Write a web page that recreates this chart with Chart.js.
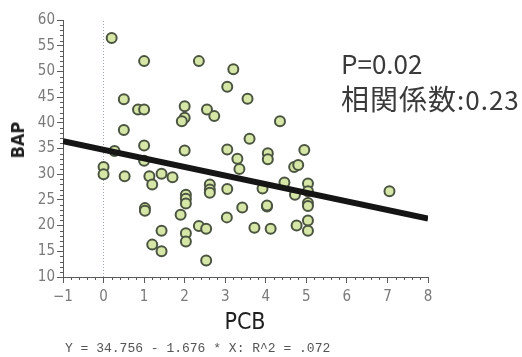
<!DOCTYPE html>
<html>
<head>
<meta charset="utf-8">
<script src="https://cdn.jsdelivr.net/npm/chart.js@4/dist/chart.umd.min.js"></script>
<style>
  html, body { margin: 0; padding: 0; background: #ffffff; }
  #wrap { position: relative; width: 522px; height: 357px; }
  canvas { position: absolute; left: 0; top: 0; }
  .note { position: absolute; white-space: nowrap; color: #3a3a3a;
          font-family: "Noto Sans CJK JP", "Noto Sans", sans-serif; font-size: 26px; line-height: 1; }
  .cjk { font-size: 28px; }
  .eq { position: absolute; white-space: pre; color: #555555;
        font-family: "Liberation Mono", "DejaVu Sans Mono", monospace; font-size: 13px; line-height: 1; }
  .axtitle { position: absolute; white-space: nowrap; color: #1e1e1e; line-height: 1;
             font-family: "DejaVu Sans Condensed", "DejaVu Sans", sans-serif; font-stretch: condensed; }
  #xTitle { font-size: 23px; left: 245px; top: 310px; transform: translateX(-50%); }
  #yTitle { font-size: 18px; font-weight: bold; left: 18px; top: 140px;
            transform: translate(-50%, -50%) rotate(-90deg); }
</style>
</head>
<body>
<div id="wrap">
  <canvas id="c" width="522" height="357"></canvas>
  <div class="note" id="pLabel" style="left:341px; top:50px;"></div>
  <div class="note" id="rLabel" style="left:341px; top:84px; letter-spacing:1px;"></div>
  <div class="eq" id="eqLabel" style="left:65px; top:342px;"></div>
  <div class="axtitle" id="xTitle"></div>
  <div class="axtitle" id="yTitle"></div>
</div>
<script>
// PCB (x) and BAP (y) for each sample
const pcb = [0.2, 1.0, 2.35, 3.2, 3.05, 0.5, 3.55, 0.85, 1.0, 2.0,
             2.55, 2.0, 1.93, 2.73, 4.35, 0.5, 3.6, 1.0, 0.27, 2.0,
             3.05, 4.05, 4.95, 4.05, 3.3, 1.0, 3.35, 4.7, 4.8, 0.0,
             0.0, 0.52, 1.13, 1.2, 1.43, 1.7, 2.62, 2.62, 2.62, 3.05,
             3.92, 4.46, 5.04, 5.04, 4.72, 2.03, 2.03, 2.03, 1.02, 1.02,
             1.9, 3.42, 4.03, 4.03, 5.04, 5.04, 3.04, 5.04, 5.04, 4.76,
             3.72, 4.12, 2.35, 2.53, 1.43, 2.03, 2.03, 1.2, 1.43, 2.53,
             7.05];
const bap = [56.5, 52.0, 52.0, 50.4, 47.0, 44.6, 44.7, 42.6, 42.6, 43.2,
             42.6, 41.0, 40.3, 41.3, 40.3, 38.6, 36.9, 35.6, 34.5, 34.6,
             34.8, 34.1, 34.7, 32.9, 33.0, 32.6, 31.0, 31.4, 31.8, 31.4,
             30.0, 29.6, 29.6, 28.0, 30.1, 29.4, 28.0, 27.0, 26.4, 27.1,
             27.2, 28.4, 28.2, 26.7, 26.0, 26.0, 25.2, 24.3, 23.4, 22.9,
             22.1, 23.5, 23.7, 23.9, 24.4, 23.8, 21.6, 21.0, 19.0, 20.0,
             19.6, 19.4, 19.9, 19.4, 19.0, 18.5, 16.9, 16.3, 15.0, 13.2,
             26.7];

// Axis ranges, tick steps and titles
const xRange = [-1, 8];
const yRange = [10, 60];
const xStep = 1, xMinorStep = 0.2;
const yStep = 5, yMinorStep = 1;
const xTitle = 'PCB';
const yTitle = 'BAP';

// Fitted regression and statistics
const intercept = 34.756;
const slope = -1.676;
const rSquared = '.072';
const pValue = '0.02';
const corrName = '相関係数';
const corrCoef = '0.23';

const points = pcb.map((x, i) => ({ x: x, y: bap[i] }));
const fitLine = xRange.map(x => ({ x: x, y: intercept + slope * x }));
const zeroLine = yRange.map(y => ({ x: 0, y: y }));

document.getElementById('xTitle').textContent = xTitle;
document.getElementById('yTitle').textContent = yTitle;
document.getElementById('pLabel').textContent = 'P=' + pValue;
const rLabel = document.getElementById('rLabel');
const cjk = document.createElement('span');
cjk.className = 'cjk';
cjk.textContent = corrName;
rLabel.appendChild(cjk);
rLabel.appendChild(document.createTextNode(':' + corrCoef));
document.getElementById('eqLabel').textContent =
  'Y = ' + intercept + ' - ' + Math.abs(slope) + ' * X: R^2 = ' + rSquared;

const axisColor = '#5a5a5a';
const tickFont = { family: '"DejaVu Sans Condensed", "DejaVu Sans", sans-serif', weight: 'condensed', size: 15 };

// Short minor ticks between the labelled ones
const minorTicks = {
  id: 'minorTicks',
  afterDraw(chart) {
    const ctx = chart.ctx, xs = chart.scales.x, ys = chart.scales.y;
    const area = chart.chartArea;
    ctx.save();
    ctx.strokeStyle = axisColor;
    ctx.lineWidth = 1;
    ctx.beginPath();
    const nx = Math.round((xRange[1] - xRange[0]) / xMinorStep);
    for (let i = 0; i <= nx; i++) {
      const v = xRange[0] + i * xMinorStep;
      if (i % Math.round(xStep / xMinorStep) === 0) continue;
      const px = Math.round(xs.getPixelForValue(v)) + 0.5;
      ctx.moveTo(px, area.bottom);
      ctx.lineTo(px, area.bottom + 3);
    }
    const ny = Math.round((yRange[1] - yRange[0]) / yMinorStep);
    for (let i = 0; i <= ny; i++) {
      const v = yRange[0] + i * yMinorStep;
      if (i % Math.round(yStep / yMinorStep) === 0) continue;
      const py = Math.round(ys.getPixelForValue(v)) + 0.5;
      ctx.moveTo(area.left, py);
      ctx.lineTo(area.left - 3, py);
    }
    ctx.stroke();
    ctx.restore();
  }
};

new Chart(document.getElementById('c'), {
  type: 'scatter',
  data: {
    datasets: [
      {
        type: 'line',
        data: fitLine,
        borderColor: '#151515',
        borderWidth: 6,
        pointRadius: 0,
        fill: false,
        order: 0
      },
      {
        data: points,
        backgroundColor: '#d5e6a6',
        borderColor: '#4a5440',
        borderWidth: 2,
        pointRadius: 5,
        order: 1
      },
      {
        type: 'line',
        data: zeroLine,
        borderColor: '#9aa3ad',
        borderWidth: 1,
        borderDash: [1, 2],
        pointRadius: 0,
        fill: false,
        order: 2
      }
    ]
  },
  options: {
    responsive: false,
    animation: false,
    layout: { padding: { top: 20, right: 94, bottom: 22, left: 0 } },
    plugins: { legend: { display: false }, tooltip: { enabled: false } },
    scales: {
      x: {
        type: 'linear',
        min: xRange[0], max: xRange[1],
        ticks: { stepSize: xStep, color: '#7a7a7a', font: tickFont, padding: 5,
                 callback: v => String(v).replace('-', '\u2212') },
        grid: { drawOnChartArea: false, drawTicks: true, tickLength: 6, color: axisColor },
        border: { display: true, color: axisColor },
        afterFit: s => { s.height = 58; }
      },
      y: {
        type: 'linear',
        min: yRange[0], max: yRange[1],
        ticks: { stepSize: yStep, color: '#7a7a7a', font: tickFont, padding: 2 },
        grid: { drawOnChartArea: false, drawTicks: true, tickLength: 6, color: axisColor },
        border: { display: true, color: axisColor },
        afterFit: s => { s.width = 63; }
      }
    }
  },
  plugins: [minorTicks]
});
</script>
</body>
</html>
